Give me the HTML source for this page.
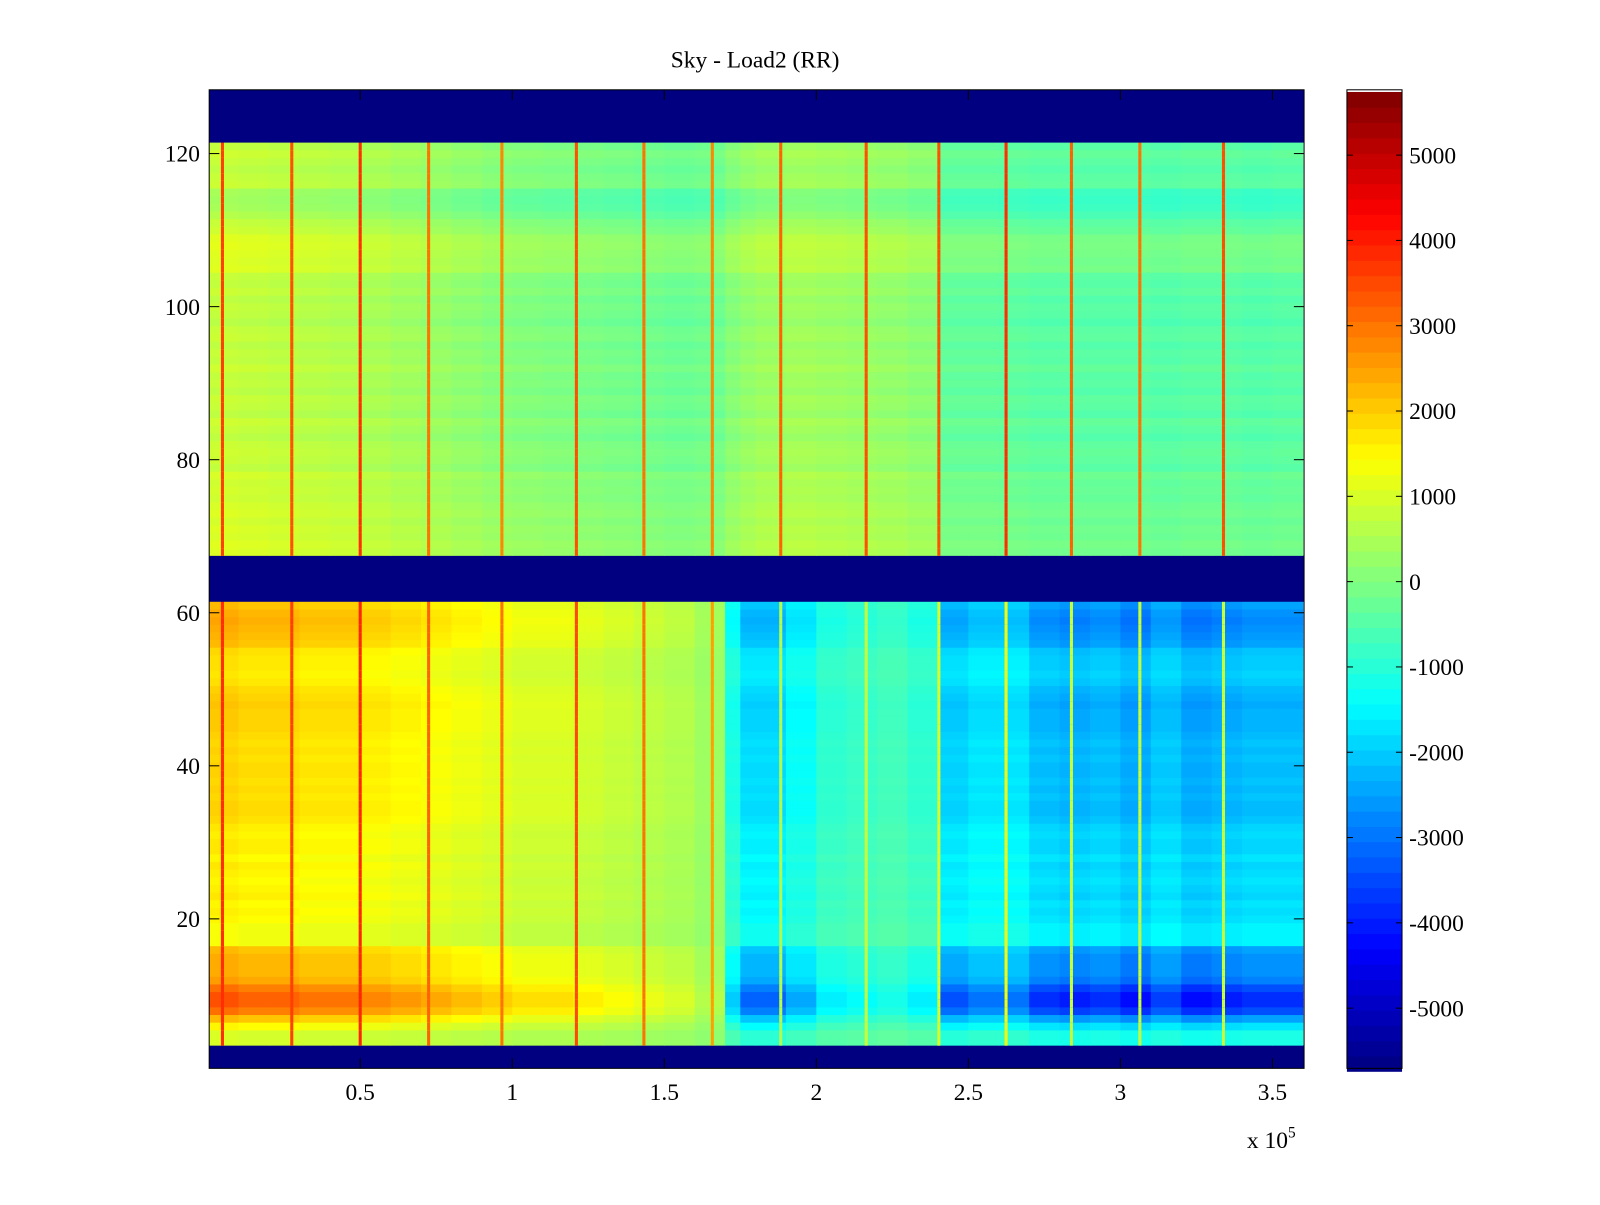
<!DOCTYPE html>
<html><head><meta charset="utf-8"><style>
body{margin:0;background:#fff;}
svg text{font-family:"Liberation Serif",serif;font-size:23px;fill:#000;}
</style></head><body>
<svg id="chart" width="1600" height="1200" xmlns="http://www.w3.org/2000/svg">
<rect width="1600" height="1200" fill="#fff"/>
<g transform="scale(1.0204)">
<text x="740" y="66" text-anchor="middle">Sky - Load2 (RR)</text>
<g id="cells"></g>
<g id="cbar"></g>
<g id="axes"></g>
</g>
</svg>
<script>
const xBinEdges=[0,10000,20000,30000,40000,50000,60000,70000,80000,90000,100000,110000,120000,130000,140000,150000,160000,170000,175000,180000,190000,200000,210000,220000,230000,240000,250000,260000,270000,280000,290000,300000,310000,320000,330000,340000,350000,360000];
const lowerProfile=[1700,1600,1600,1500,1500,1400,1300,1200,1100,1000,900,900,800,700,600,500,300,-1000,-1600,-1600,-1200,-800,-700,-600,-800,-1700,-1500,-1500,-1900,-2000,-1900,-2100,-1800,-2100,-2000,-1900,-1900];
const upperProfile=[800,750,700,650,600,500,400,300,200,100,50,0,-50,-100,-150,-200,-150,100,250,350,400,350,300,250,150,-300,-300,-350,-400,-400,-400,-400,-450,-400,-400,-450,-400];
const lowerRowGain=[0.6,0.6,0.9,1.3,1.8,2.0,2.0,1.8,1.5,1.4,1.4,1.4,1.3,0.8,0.8,0.8,0.9,0.95,0.9,1,0.95,0.9,0.95,1,0.9,1,1,0.95,1,1.1,1.15,1.15,1.1,1.15,1.1,1.15,1.15,1.1,1.15,1.1,1.15,1.2,1.2,1.2,1.25,1.2,1.15,1.05,1,1.05,1.05,1.1,1.3,1.35,1.4,1.45,1.4,1.3];
const upperRowOffset=[250,300,200,250,150,250,200,100,150,100,200,-50,50,100,50,-100,0,100,-100,0,50,-100,0,-50,100,-50,0,-100,50,0,-150,-50,0,-100,50,-50,0,300,250,300,350,300,100,0,-200,-350,-400,-350,50,0,-100,0,100,-50];
const spikeX=[4700,27500,50000,72500,96600,121100,143300,165800,188300,216400,240300,262400,283900,306400,333900];
const spikeUpper=[3600,3400,3800,3000,2800,3400,3000,2800,3200,3400,3400,3800,3200,3000,3400];
const spikeLower=[3800,3600,3900,3200,3000,3500,3000,2500,600,800,1000,1300,800,800,800];
const blankRows=[[1,3],[62,67],[122,128]];
const xTicks=[0.5,1,1.5,2,2.5,3,3.5];
const yTicks=[20,40,60,80,100,120];
const cTicks=[5000,4000,3000,2000,1000,0,-1000,-2000,-3000,-4000,-5000];
const cMin=-5740,cMax=5740;

const L=205,R=1278,T=88,B=1047;
const X=v=>204+v/50000*149;
const Y=r=>1050.5-r*7.5;
function jet(v){let t=(v-cMin)/(cMax-cMin);t=Math.max(0,Math.min(1,t));
 const f=x=>Math.max(0,Math.min(1,x));
 const r=f(1.5-Math.abs(4*t-3)),g=f(1.5-Math.abs(4*t-2)),b=f(1.5-Math.abs(4*t-1));
 return `rgb(${Math.round(r*255)},${Math.round(g*255)},${Math.round(b*255)})`;}
const NS="http://www.w3.org/2000/svg";
function mk(tag,attrs,parent){const e=document.createElementNS(NS,tag);for(const k in attrs)e.setAttribute(k,attrs[k]);parent.appendChild(e);return e;}
const cells=document.getElementById('cells');
function isBlank(r){return blankRows.some(b=>r>=b[0]&&r<=b[1]);}
for(let r=1;r<=128;r++){
 const y0=Y(r+0.5),h=7.5;
 if(isBlank(r)){const e=mk('rect',{x:L,y:Math.max(T,y0),width:R-L,height:Math.min(B,y0+h+0.5)-Math.max(T,y0),fill:jet(cMin)},cells);
 
 continue;}
 for(let c=0;c<lowerProfile.length;c++){
  let v=r<62?lowerProfile[c]*lowerRowGain[r-4]:upperProfile[c]+upperRowOffset[r-68];
  const x0=Math.max(L,X(xBinEdges[c])),x1=Math.min(R,X(xBinEdges[c+1]));
  const e=mk('rect',{x:x0,y:y0,width:x1-x0+0.5,height:h+0.5,fill:jet(v)},cells);
  
  
 }
 for(let s=0;s<spikeX.length;s++){
  const v=r<62?spikeLower[s]:spikeUpper[s];
  const e=mk('rect',{x:X(spikeX[s])-1.5,y:y0,width:3,height:h+0.5,fill:jet(v)},cells);
  
  
 }
}
const axes=document.getElementById('axes');
mk('rect',{x:L,y:T,width:R-L,height:B-T,fill:'none',stroke:'#000','stroke-width':1},axes);
xTicks.forEach(t=>{const x=X(t*1e5);
 mk('line',{x1:x,x2:x,y1:B,y2:B-10,stroke:'#000'},axes);mk('line',{x1:x,x2:x,y1:T,y2:T+10,stroke:'#000'},axes);
 const e=mk('text',{x:x,y:1078,'text-anchor':'middle'},axes);e.textContent=t;
 
 });
yTicks.forEach(t=>{const y=1050.5-t*7.5;
 mk('line',{x1:L,x2:L+10,y1:y,y2:y,stroke:'#000'},axes);mk('line',{x1:R,x2:R-10,y1:y,y2:y,stroke:'#000'},axes);
 const e=mk('text',{x:196,y:y+8,'text-anchor':'end'},axes);e.textContent=t;
 
 });
const xm=mk('text',{x:1222,y:1125},axes);xm.innerHTML='x 10<tspan dy="-10" font-size="15">5</tspan>';


const cb=document.getElementById('cbar');
const CL=1320,CR=1374,CY=v=>570-v/1000*83.6;
for(let i=0;i<64;i++){const v0=cMin+(cMax-cMin)*i/64,v1=cMin+(cMax-cMin)*(i+1)/64;
 const e=mk('rect',{x:CL,y:CY(v1),width:CR-CL,height:CY(v0)-CY(v1)+0.5,fill:jet((v0+v1)/2)},cb);
 
 }
mk('rect',{x:CL,y:T,width:CR-CL,height:B-T,fill:'none',stroke:'#000'},cb);
cTicks.forEach(t=>{const y=CY(t);
 mk('line',{x1:CL,x2:CL+6,y1:y,y2:y,stroke:'#000'},cb);mk('line',{x1:CR,x2:CR-6,y1:y,y2:y,stroke:'#000'},cb);
 const e=mk('text',{x:1381,y:y+8},cb);e.textContent=t;
 
 });
</script>
</body></html>
